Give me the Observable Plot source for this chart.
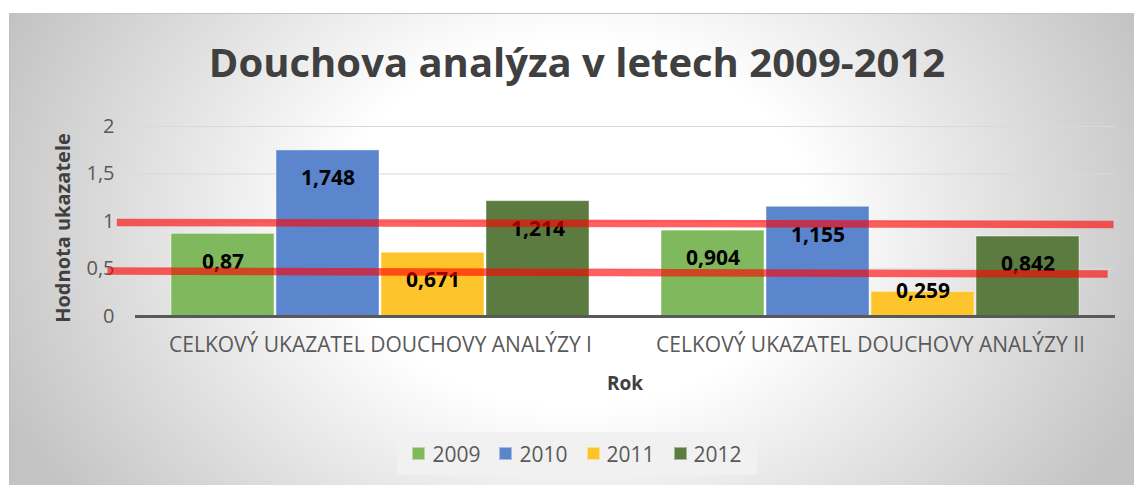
<!DOCTYPE html>
<html>
<head>
<meta charset="utf-8">
<script src="https://cdn.jsdelivr.net/npm/d3@7"></script>
<script src="https://cdn.jsdelivr.net/npm/@observablehq/plot@0.6"></script>
<style>
  html, body { margin: 0; padding: 0; background: #fff; }
  #page { position: relative; width: 1134px; height: 485px; overflow: hidden; background: #fff; font-family: "Open Sans", sans-serif; }
  #bg { position: absolute; left: 9px; top: 13px; width: 1125px; height: 472px;
        background: radial-gradient(ellipse 620px 480px at 565px 210px, #ffffff 38%, #c3c3c3 100%);
        border-top: 1px solid #c4c4c4; border-left: 1px solid #c0c0c0; box-sizing: border-box; }
  #title { position: absolute; left: 0; width: 1154px; top: 42px; text-align: center; font-weight: 700; font-size: 40px; color: #404040; line-height: 1; }
  #ylabel { position: absolute; left: 62px; top: 228px; transform: translate(-50%, -50%) rotate(-90deg); white-space: nowrap; font-weight: 700; font-size: 20px; color: #404040; }
  #xlabel { position: absolute; left: 625px; top: 383px; transform: translate(-50%, -50%); font-weight: 700; font-size: 19px; color: #404040; }
  #chart, #overlay { position: absolute; left: 0; top: 0; }
  #overlay { pointer-events: none; }
  #legend { position: absolute; left: 397px; top: 432px; width: 360px; height: 43px; background: #f1f1f1;
            display: flex; align-items: center; justify-content: center; gap: 19px; }
  .item { display: flex; align-items: center; font-size: 21px; color: #595959; }
  .sw { width: 13px; height: 13px; margin-right: 7px; box-sizing: border-box; border: 1px solid rgba(255,255,255,0.45); }
</style>
</head>
<body>
<div id="page">
  <div id="bg"></div>
  <div id="title"></div>
  <div id="chart"></div>
  <div id="overlay"></div>
  <div id="ylabel"></div>
  <div id="xlabel"></div>
  <div id="legend"></div>
</div>
<script>
// ---- data ----
const titleText = "Douchova analýza v letech 2009-2012";
const yLabelText = "Hodnota ukazatele";
const xLabelText = "Rok";
const groups = ["CELKOVÝ UKAZATEL DOUCHOVY ANALÝZY I", "CELKOVÝ UKAZATEL DOUCHOVY ANALÝZY II"];
const years = ["2009", "2010", "2011", "2012"];
const values2009 = [0.87, 0.904];
const values2010 = [1.748, 1.155];
const values2011 = [0.671, 0.259];
const values2012 = [1.214, 0.842];
const colors = ["#80b85d", "#5b85cc", "#fec42b", "#5b7b41"];
const yTicks = [0, 0.5, 1, 1.5, 2];
// hand-drawn red annotation lines (x as fraction of plot width, y in data units)
const redLineStart = [[-0.018, 0.99], [-0.0275, 0.479]];
const redLineEnd = [[0.998, 0.968], [0.992, 0.447]];

// ---- build ----
const series = [values2009, values2010, values2011, values2012];
const data = groups.flatMap((g, gi) => years.map((yr, yi) => ({ group: g, year: yr, value: series[yi][gi] })));
const redLines = redLineStart.map((s, i) => ({ x1: s[0], y1: s[1], x2: redLineEnd[i][0], y2: redLineEnd[i][1] }));
const fmt = v => String(v).replace(".", ",");

document.getElementById("title").textContent = titleText;
document.getElementById("ylabel").textContent = yLabelText;
document.getElementById("xlabel").textContent = xLabelText;

const W = 1134, H = 400, mT = 126, mL = 134, mR = 19, mB = 84;
const common = {
  width: W, height: H, marginTop: mT, marginLeft: mL, marginRight: mR, marginBottom: mB,
  style: { background: "transparent", fontFamily: "Open Sans", fontSize: "20px", color: "#595959", overflow: "visible" }
};

const chart = Plot.plot({
  ...common,
  fx: { domain: groups, padding: 0, label: null },
  x: { domain: years, paddingInner: 0.019, paddingOuter: 0.33, axis: null },
  y: { domain: [0, 2], label: null },
  color: { domain: years, range: colors },
  marks: [
    Plot.gridY(yTicks, { stroke: "#d9d9d9", strokeOpacity: 1 }),
    Plot.barY(data, { fx: "group", x: "year", y: "value", fill: "year", stroke: "#ffffff", strokeOpacity: 0.45, strokeWidth: 1 }),
    Plot.ruleY([0], { stroke: "#595959", strokeWidth: 3 }),
    Plot.text(data.filter(d => d.value > 0.3), { fx: "group", x: "year", y: "value", text: d => fmt(d.value), dy: 28, fontWeight: "bold", fontSize: 21, fill: "#000" }),
    Plot.text(data.filter(d => d.value <= 0.3), { fx: "group", x: "year", y: "value", text: d => fmt(d.value), dy: -1, fontWeight: "bold", fontSize: 21, fill: "#000" }),
    Plot.axisY(yTicks, { tickSize: 0, tickPadding: 21, tickFormat: fmt, label: null, fontSize: 20 }),
    Plot.axisFx({ anchor: "bottom", tickSize: 0, tickPadding: 21, label: null, fontSize: 21 })
  ]
});
document.getElementById("chart").appendChild(chart);

const overlay = Plot.plot({
  ...common,
  x: { domain: [0, 1], axis: null },
  y: { domain: [0, 2], axis: null },
  marks: [
    Plot.link(redLines, { x1: "x1", y1: "y1", x2: "x2", y2: "y2", stroke: "#ff0000", strokeOpacity: 0.62, strokeWidth: 7.5 })
  ]
});
document.getElementById("overlay").appendChild(overlay);

const legend = document.getElementById("legend");
years.forEach((yr, i) => {
  const item = document.createElement("div");
  item.className = "item";
  const sw = document.createElement("div");
  sw.className = "sw";
  sw.style.background = colors[i];
  const lab = document.createElement("span");
  lab.textContent = yr;
  item.appendChild(sw);
  item.appendChild(lab);
  legend.appendChild(item);
});
</script>
</body>
</html>
